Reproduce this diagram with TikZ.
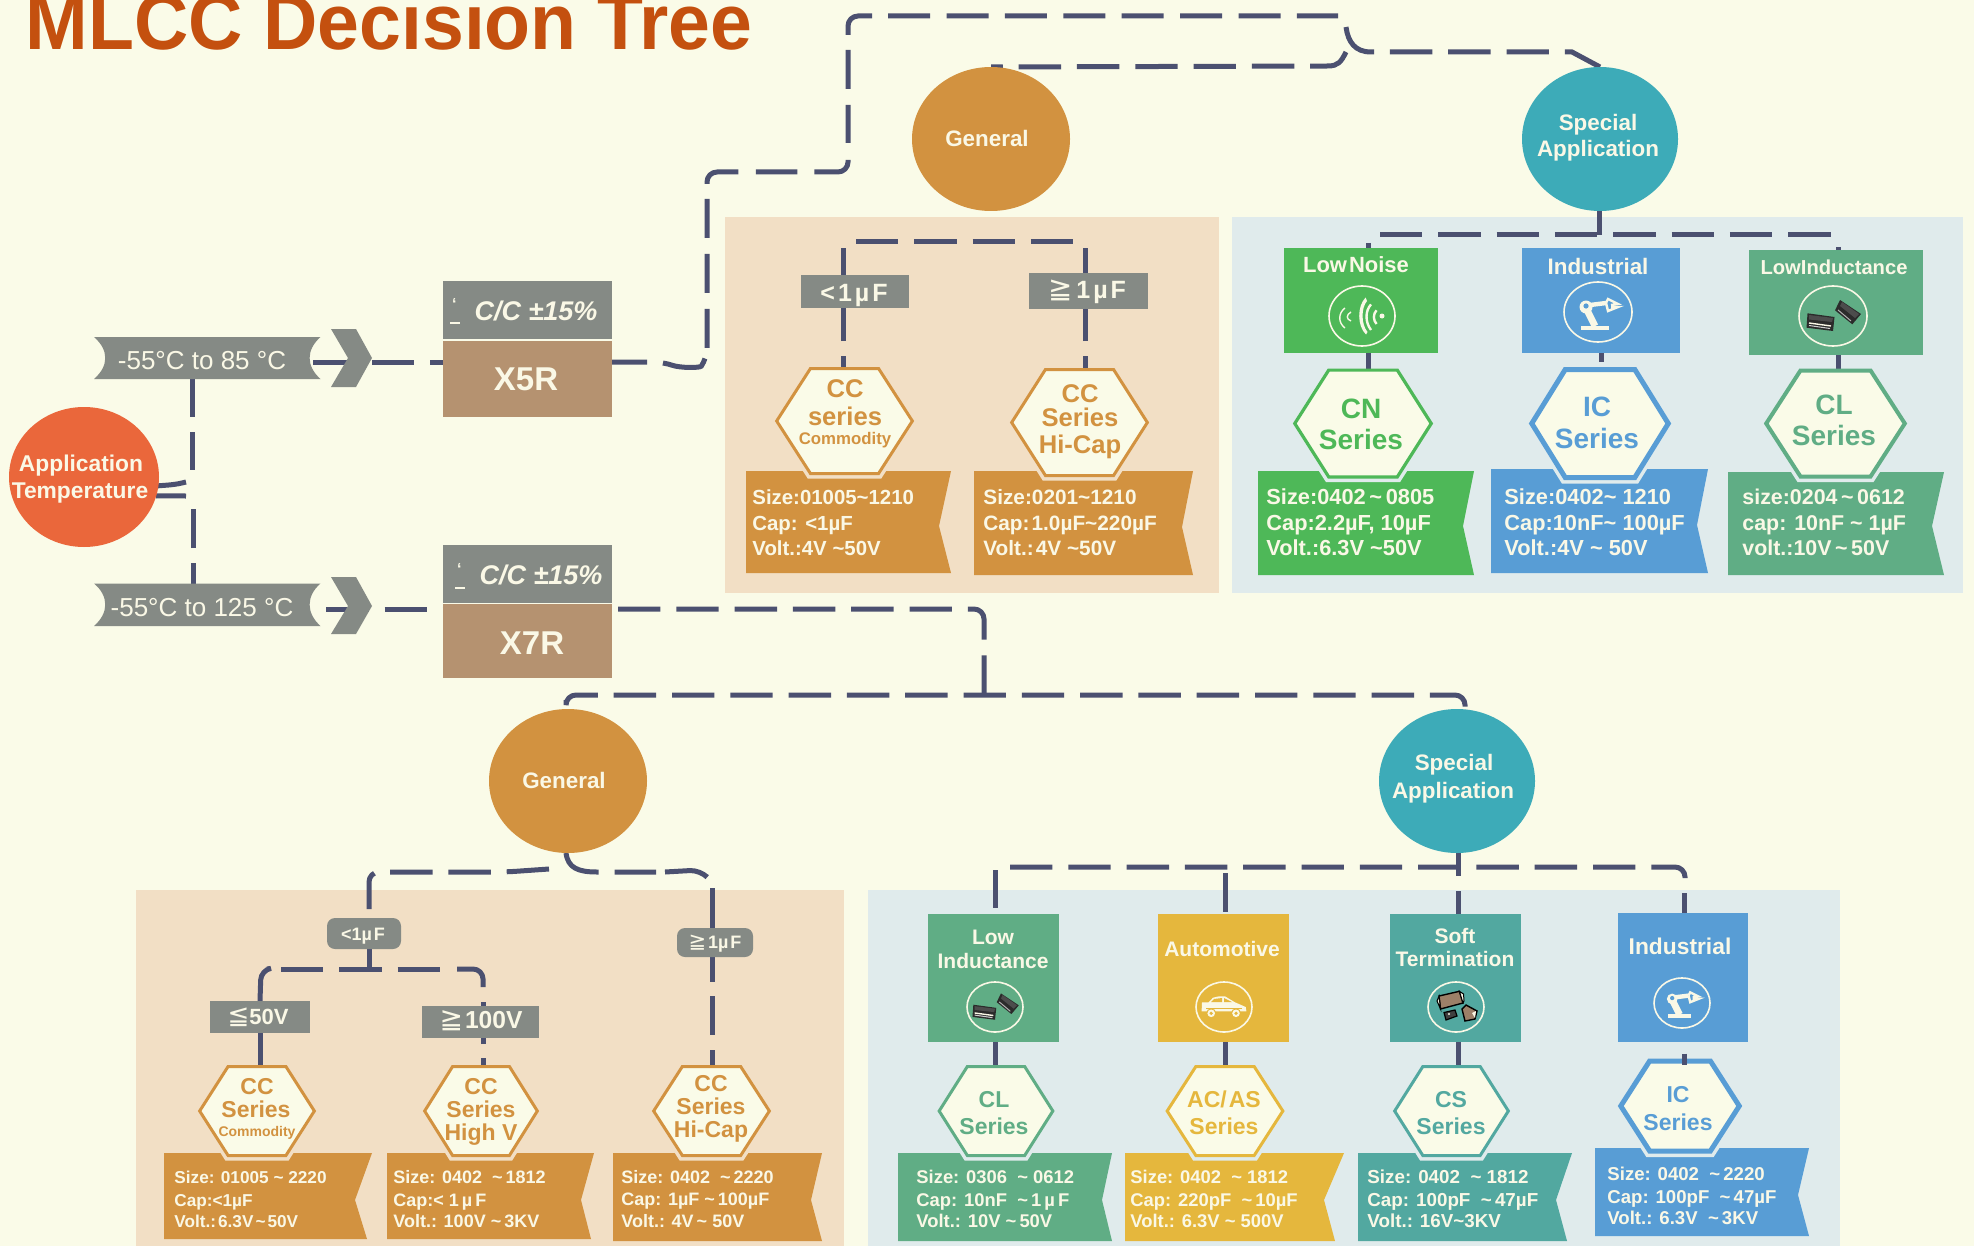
\documentclass[tikz,border=0pt]{standalone}
\usepackage{fontspec}
\setmainfont{Liberation Sans}
\newfontfamily\symf{DejaVu Sans}
\usetikzlibrary{shapes.geometric,calc}
\pgfdeclarelayer{panelL}\pgfdeclarelayer{connL}\pgfsetlayers{panelL,connL,main}
\definecolor{bgc}{HTML}{FAFBE8}
\definecolor{ptan}{HTML}{F2DFC5}
\definecolor{pblue}{HTML}{E0EBEC}
\definecolor{grayc}{HTML}{858A85}
\definecolor{tanc}{HTML}{B59270}
\definecolor{orc}{HTML}{D29240}
\definecolor{tealc}{HTML}{3DABB8}
\definecolor{grnc}{HTML}{4EB858}
\definecolor{bluc}{HTML}{589DD5}
\definecolor{mgrn}{HTML}{60AD85}
\definecolor{yelc}{HTML}{E5B73D}
\definecolor{tgrn}{HTML}{52A8A0}
\definecolor{linec}{HTML}{4B5070}
\definecolor{redc}{HTML}{EA673B}
\definecolor{titc}{HTML}{C4500F}
\definecolor{wtxt}{HTML}{FAF8E6}
\definecolor{chipd}{HTML}{2B2B2B}
\definecolor{chipb}{HTML}{9C8068}
\tikzset{
  conn/.style={draw=linec,line width=2.5pt,dash pattern=on 21.2pt off 7.95pt},
  connS/.style={draw=linec,line width=2.5pt},
  rc/.style={rounded corners=5pt},
  blank/.style={inner sep=0pt,outer sep=0pt,draw=none},
  ring/.style={draw=wtxt,line width=0.8pt},
}
% text, centred: [font]{name}{x}{y centre}{size pt}{colour}{text}
\newcommand{\lab}[7][\bfseries]{%
  \pgfmathsetmacro\laby{#4+0.72*#5}%
  \node[anchor=base,inner sep=0pt,text=#6,font={\fontsize{#5}{#5}\selectfont#1}] (#2) at (#3,\laby) {#7};}
% three-line text of a tag
\newcommand{\tagtxt}[9]{%
  \pgfmathsetmacro\laya{#3+0.72*#6}\pgfmathsetmacro\layb{#4+0.72*#6}\pgfmathsetmacro\layc{#5+0.72*#6}%
  \node[anchor=base west,inner sep=0pt,text=wtxt,font={\fontsize{#6}{#6}\selectfont\bfseries}] (#1a) at (#2,\laya) {#7};
  \node[anchor=base west,inner sep=0pt,text=wtxt,font={\fontsize{#6}{#6}\selectfont\bfseries}] (#1b) at (#2,\layb) {#8};
  \node[anchor=base west,inner sep=0pt,text=wtxt,font={\fontsize{#6}{#6}\selectfont\bfseries}] (#1c) at (#2,\layc) {#9};}
% rectangle node from corners: [opts]{name}{x1}{y1}{x2}{y2}
\newcommand{\pxbox}[6][]{%
  \pgfmathsetmacro\pxc{(#3+#5)/2}\pgfmathsetmacro\pyc{(#4+#6)/2}%
  \pgfmathsetmacro\pxw{(#5-#3)*0.5}\pgfmathsetmacro\pxh{(#6-#4)*0.5}%
  \node[blank,#1,minimum width=\pxw pt,minimum height=\pxh pt] (#2) at (\pxc,\pyc) {};}
% ellipse node: {name}{colour}{cx}{cy}{rx}{ry}
\newcommand{\ovalnode}[6]{\node[ellipse,blank,fill=#2,minimum width=#5 pt,minimum height=#6 pt] (#1) at (#3,#4) {};}
% hexagon: {name}{colour}{halo}{cx}{cy}{hw}{hh}{lw px}; hw and hh reach the outer edge of the stroke
\newcommand{\hexa}[8]{%
  \pgfmathsetmacro\ha{#4-#6+0.55*#8}\pgfmathsetmacro\hb{#4-0.49*#6}\pgfmathsetmacro\hc{#4+0.49*#6}\pgfmathsetmacro\hd{#4+#6-0.55*#8}%
  \pgfmathsetmacro\he{#5-#7+0.5*#8}\pgfmathsetmacro\hf{#5+#7-0.5*#8}\pgfmathsetmacro\hl{#8*0.5}\pgfmathsetmacro\hm{(#8+7)*0.5}%
  \pgfmathsetmacro\hw{#6}\pgfmathsetmacro\hh{#7}%
  \draw[draw=#3,line width=\hm pt,line join=miter] (\ha,#5)--(\hb,\hf)--(\hc,\hf)--(\hd,#5);
  \draw[draw=#2,fill=bgc,line width=\hl pt,line join=miter] (\ha,#5)--(\hb,\he)--(\hc,\he)--(\hd,#5)--(\hc,\hf)--(\hb,\hf)--cycle;
  \node[blank,minimum width=\hw pt,minimum height=\hh pt] (#1) at (#4,#5) {};}
% tag: {colour}{x1}{y1}{xtop}{notch x}{notch y}{xbottom}{y2}
\newcommand{\tagbox}[8]{\fill[#1] (#2,#3)--(#4,#3)--(#5,#6)--(#7,#8)--(#2,#8)--cycle;}
\newcommand{\bigge}[1]{{\symf\mdseries\fontsize{#1}{#1}\selectfont ≧}}
\newcommand{\bigle}[1]{{\symf\mdseries\fontsize{#1}{#1}\selectfont ≦}}
\newcommand{\brokenmark}{\rlap{\raisebox{6pt}{\kern1pt‘}}\rule[-1pt]{5pt}{1pt}}
% icons
\newcommand{\iconring}[4]{\draw[ring] (#1,#2) ellipse (#3 and #4);}
\newcommand{\iconrobot}[3]{\begin{scope}[shift={(#1,#2)},scale=#3]
  \fill[wtxt] (-17,14) rectangle (11,18);
  \draw[wtxt,line width=3.4pt] (-12,-4)--(-3,14);
  \draw[wtxt,line width=2.2pt] (-8,-7)--(8,-9);
  \fill[wtxt] (-12,-5) circle (6.5);
  \fill[bluc] (-12,-6) circle (2.6);
  \draw[wtxt,line width=1.2pt] (8,-9)--(10,-13)--(20,-8)--(13,-7);
  \draw[wtxt,line width=1.2pt] (8,-9)--(10,-1)--(20,-5)--(13,-5);
\end{scope}}
\newcommand{\iconchips}[3]{\begin{scope}[shift={(#1,#2)},scale=#3]
  \fill[chipd] (-25.5,-2.7)--(1.5,1)--(0,15)--(-26.5,11.7)--cycle;
  \fill[black!70] (-24,-1)--(0,2)--(-1,6)--(-24,3.5)--cycle;
  \draw[wtxt,line width=0.7pt] (-24,7)--(-2,10);
  \draw[white!80!black,line width=0.5pt] (-24,9.5)--(-3,12.5);
  \fill[chipd] (7,-16)--(28,-2)--(19.3,8.3)--(2,-5.7)--cycle;
  \fill[black!70] (9,-14)--(26,-2)--(22,2)--(7,-10)--cycle;
  \draw[white!70!black,line width=0.5pt] (5,-6)--(18,5);
\end{scope}}
\newcommand{\iconwaves}[2]{\begin{scope}[shift={(#1,#2)}]
  \fill[wtxt] (3.6,-18.5) .. controls (-5,-10) and (-5,10) .. (4,18.5) -- (5.5,16) .. controls (-1,8) and (-1,-8) .. (5,-15) -- cycle;
  \draw[wtxt,line width=1.2pt] (9,-11.6) .. controls (3,-5) and (3,6) .. (9,14);
  \draw[wtxt,line width=1.2pt] (14.5,-5.7) .. controls (11,-2) and (11,4) .. (14.5,8);
  \fill[wtxt] (20,0) circle (2.5);
  \draw[wtxt,line width=0.7pt] (-17,-8) .. controls (-24,-3) and (-24,7) .. (-17,12);
  \draw[wtxt,line width=0.7pt] (-11,-4) .. controls (-16,-1) and (-16,3) .. (-11,5);
\end{scope}}
\newcommand{\iconcar}[2]{\begin{scope}[shift={(#1,#2)}]
  \fill[wtxt] (-22,-4.7)--(-15.5,-4.7)--(-11,-9.3) .. controls (-5,-11) and (-3,-11) .. (1,-10.7)--(11,-4.7)--(21.7,0)--(22.4,4.3)--(-22.4,4.3)--cycle;
  \fill[yelc] (-10,-8)--(-2,-9)--(-2,-5)--(-13,-5)--cycle;
  \fill[yelc] (0,-9)--(8,-5)--(0,-5)--cycle;
  \fill[yelc] (-18,0.5)--(18,0.5)--(18,1.5)--(-18,1.5)--cycle;
  \foreach \wx in {-12.8,12}{\fill[yelc] (\wx,6.3) circle (5);\fill[wtxt] (\wx,6.3) circle (3.8);\fill[yelc] (\wx,6.3) circle (1.8);}
\end{scope}}
\newcommand{\iconsoft}[2]{\begin{scope}[shift={(#1,#2)}]
  \draw[fill=chipb,draw=black,line width=0.7pt] (-17,-11)--(3.4,-15.7)--(7,-4)--(-15.5,2)--cycle;
  \fill[wtxt,draw=black,line width=0.5pt] (3.4,-15.7) -- (7.5,-13) -- (8,-6) -- (7,-4) -- cycle;
  \fill[wtxt,draw=black,line width=0.5pt] (-17,-11) -- (-19,-6) -- (-15.5,2)-- cycle;
  \draw[fill=black!75,draw=black,line width=0.6pt] (-12,5.5)--(-1,3)--(1,9)--(-10,13)--cycle;
  \fill[wtxt] (-7,7) circle (1.2);
  \draw[fill=chipb,draw=black,line width=0.7pt] (6,2)--(10,-2)--(21,4)--(19,12)--(9,14)--cycle;
  \fill[wtxt] (16,6) -- (20,4) -- (19,11) -- cycle;
\end{scope}}
\begin{document}
\begin{tikzpicture}[x=0.5pt,y=-0.5pt]
\useasboundingbox (0,0) rectangle (1974,1246);
\begin{pgfonlayer}{panelL}
  \fill[bgc] (0,0) rectangle (1974,1246);
  \fill[ptan] (725,217) rectangle (1219,593);
  \fill[pblue] (1232,217) rectangle (1963,593);
  \fill[ptan] (136,890) rectangle (844,1246);
  \fill[pblue] (868,890) rectangle (1840,1246);
\end{pgfonlayer}

% title
\node[anchor=base west,inner sep=0pt,text=titc,font={\fontsize{39.5}{39.5}\selectfont\bfseries}] (title) at (25,50) {\scalebox{0.952}[1]{MLCC Decision Tree}};

% left column
\ovalnode{apptemp}{redc}{84}{477}{75}{70}
\lab{apptemp1}{81}{463}{11.4}{wtxt}{Application}
\lab{apptemp2}{80}{490}{11.4}{wtxt}{Temperature}

\fill[grayc] (94,337)--(320.5,337) .. controls (306,350) and (306,366) .. (320.5,379)--(94,379) .. controls (109,366) and (109,350) .. (94,337)--cycle;
\pxbox{rib1}{94}{337}{320}{379}
\lab[\mdseries]{rib1t}{202}{360}{13}{wtxt}{-55°C to 85 °C}
\fill[grayc] (94,583.5)--(320.5,583.5) .. controls (306,596) and (306,613) .. (320.5,626)--(94,626) .. controls (109,613) and (109,596) .. (94,583.5)--cycle;
\pxbox{rib2}{94}{584}{320}{626}
\lab[\mdseries]{rib2t}{202}{607}{13}{wtxt}{-55°C to 125 °C}

\fill[grayc] (331,329)--(356,329)--(372,358)--(356,387)--(331,387)--(348,358)--cycle;
\pxbox{chev1}{331}{329}{372}{387}
\fill[grayc] (331,577)--(356,577)--(372,606)--(356,634)--(331,634)--(348,606)--cycle;
\pxbox{chev2}{331}{577}{372}{634}

\pxbox[fill=grayc]{x5rg}{443}{281}{612}{339}
\pxbox[fill=tanc]{x5r}{443}{341}{612}{417}
\pxbox[fill=grayc]{x7rg}{443}{545}{612}{603}
\pxbox[fill=tanc]{x7r}{443}{604}{612}{678}
\lab[\bfseries\itshape]{x5rgt}{536}{311}{13.5}{wtxt}{C/C ±15\%}
\lab[\bfseries\itshape]{x7rgt}{541}{575}{13.5}{wtxt}{C/C ±15\%}
\lab[\bfseries]{x5rga}{455}{316}{8}{wtxt}{\brokenmark}
\lab[\bfseries]{x7rga}{460}{581}{8}{wtxt}{\brokenmark}
\lab{x5rt}{526}{379}{16.5}{wtxt}{X5R}
\lab{x7rt}{532}{643}{16.5}{wtxt}{X7R}

% top general
\ovalnode{genT}{orc}{991}{139}{79}{72}
\lab{genTt}{987}{138}{11.2}{wtxt}{General}
\pxbox[fill=grayc]{ltT}{801}{275}{909}{308}
\pxbox[fill=grayc]{geT}{1029}{273}{1148}{309}
\lab{ltTt}{854}{292}{12.5}{wtxt}{<\kern1.5pt1\kern1.5ptµ\kern1.5ptF}
\lab{geTt}{1087}{289}{12.5}{wtxt}{\bigge{14.5}\kern2pt1\kern1.5ptµ\kern1.5ptF}
\tagbox{orc}{746}{471}{951}{939}{526}{951}{573}
\hexa{hT1}{orc}{ptan}{844.5}{421}{69.5}{54}{3}
\lab{hT1a}{845}{388}{12.8}{orc}{CC}
\lab{hT1b}{845}{416}{12.8}{orc}{series}
\lab{hT1c}{845}{438}{8.4}{orc}{Commodity}
\tagtxt{tT1}{752}{497}{523}{548}{10.2}{Size:01005\textasciitilde1210}{Cap: <1µF}{Volt.:4V \textasciitilde50V}
\tagbox{orc}{974}{471}{1193}{1182}{527}{1193}{575}
\hexa{hT2}{orc}{ptan}{1079.5}{422.5}{69.5}{54.5}{3}
\lab{hT2a}{1080}{393}{12.8}{orc}{CC}
\lab{hT2b}{1080}{417}{12.8}{orc}{Series}
\lab{hT2c}{1080}{444}{12.8}{orc}{Hi-Cap}
\tagtxt{tT2}{983}{497}{523}{548}{10.4}{Size:0201\textasciitilde1210}{Cap:\kern1pt1.0µF\textasciitilde220µF}{Volt.:\kern1pt4V \textasciitilde50V}

% top special
\ovalnode{speT}{tealc}{1600}{139}{78}{72}
\lab{speTa}{1598}{122}{11.2}{wtxt}{Special}
\lab{speTb}{1598}{148}{11.2}{wtxt}{Application}
\pxbox[fill=grnc]{ln}{1284}{248}{1438}{353}
\pxbox[fill=bluc]{ind}{1522}{248}{1680}{353}
\pxbox[fill=mgrn]{li}{1749}{250}{1923}{355}
\lab{lnt}{1356}{265}{11}{wtxt}{Low\kern1ptNoise}
\lab{indt}{1598}{266}{11.2}{wtxt}{Industrial}
\lab{lit}{1834}{267}{10.1}{wtxt}{LowInductance}
\iconring{1362}{316}{33}{30}\iconwaves{1362}{316}
\iconring{1598}{312}{34}{30}\iconrobot{1598}{312}{1}
\iconring{1833}{316}{34}{30}\iconchips{1833}{316}{1}

\tagbox{grnc}{1258}{471}{1474}{1463}{526}{1474}{575}
\hexa{hCN}{grnc}{pblue}{1363}{423.5}{70}{55}{3.2}
\lab{hCNa}{1361}{408}{14}{grnc}{CN}
\lab{hCNb}{1361}{439}{14}{grnc}{Series}
\tagtxt{tCN}{1266}{497}{523}{548}{10.9}{Size:0402\,\textasciitilde\,0805}{Cap:2.2µF, 10µF}{Volt.:6.3V \textasciitilde50V}
\tagbox{bluc}{1491}{469}{1708}{1697}{525}{1708}{573}
\hexa{hIC}{bluc}{pblue}{1600}{423.5}{71}{56.5}{5}
\lab{hICa}{1597}{406}{14}{bluc}{IC}
\lab{hICb}{1597}{438}{14}{bluc}{Series}
\tagtxt{tIC}{1504}{497}{523}{548}{10.9}{Size:0402\textasciitilde\ 1210}{Cap:10nF\textasciitilde\ 100µF}{Volt.:4V \textasciitilde\ 50V}
\tagbox{mgrn}{1728}{472}{1944}{1932}{526}{1944}{575}
\hexa{hCL}{mgrn}{pblue}{1835.5}{423.5}{71.5}{55}{4}
\lab{hCLa}{1834}{404}{14}{mgrn}{CL}
\lab{hCLb}{1834}{435}{14}{mgrn}{Series}
\tagtxt{tCL}{1742}{497}{523}{548}{10.7}{size:0204\,\textasciitilde\,0612}{cap: 10nF \textasciitilde\ 1µF}{volt.:10V\,\textasciitilde\,50V}

% bottom general
\ovalnode{genL}{orc}{568}{781}{79}{72}
\lab{genLt}{564}{780}{11.2}{wtxt}{General}
\pxbox[fill=grayc,rounded corners=4pt]{ltL}{327}{918}{401}{949}
\pxbox[fill=grayc,rounded corners=4pt]{geL}{677}{928}{753}{957}
\lab{ltLt}{363}{934}{9}{wtxt}{<1µ\kern1pt F}
\lab{geLt}{715}{942}{9}{wtxt}{\bigge{10.5}\kern1pt 1µ\kern1pt F}
\pxbox[fill=grayc]{v50}{210}{1001}{310}{1033}
\pxbox[fill=grayc]{v100}{422}{1006}{539}{1038}
\lab{v50t}{258}{1017}{11}{wtxt}{\bigle{13}50V}
\lab{v100t}{481}{1020}{12.3}{wtxt}{\bigge{14}\kern1pt 100V}

\tagbox{orc}{164}{1153}{372}{355}{1200}{367}{1239}
\hexa{hL1}{orc}{ptan}{257}{1111}{59}{46}{3}
\lab{hL1a}{257}{1086}{11.5}{orc}{CC}
\lab{hL1b}{256}{1109}{11.5}{orc}{Series}
\lab{hL1c}{257}{1131}{7}{orc}{Commodity}
\tagtxt{tL1}{174}{1177}{1200}{1221}{8.6}{Size: 01005 \textasciitilde\ 2220}{Cap:<1µF}{Volt.:\kern1pt 6.3V\kern1pt\textasciitilde\kern1pt50V}
\tagbox{orc}{387}{1153}{594}{581}{1200}{591}{1239}
\hexa{hL2}{orc}{ptan}{481}{1111}{58}{46}{3}
\lab{hL2a}{481}{1086}{11.5}{orc}{CC}
\lab{hL2b}{481}{1109}{11.5}{orc}{Series}
\lab{hL2c}{481}{1132}{11.5}{orc}{High V}
\tagtxt{tL2}{393}{1177}{1200}{1221}{9}{Size: 0402\ \ \textasciitilde\,1812}{Cap:< 1\,µ\,F}{Volt.: 100V \textasciitilde\,3KV}
\tagbox{orc}{613}{1153}{822}{811}{1200}{822}{1241}
\hexa{hL3}{orc}{ptan}{711.5}{1111}{59.5}{46}{3}
\lab{hL3a}{711}{1083}{11.5}{orc}{CC}
\lab{hL3b}{711}{1106}{11.5}{orc}{Series}
\lab{hL3c}{711}{1129}{11.5}{orc}{Hi-Cap}
\tagtxt{tL3}{621}{1177}{1199}{1221}{9}{Size: 0402\ \ \textasciitilde\,2220}{Cap: 1µF \textasciitilde\,100µF}{Volt.: 4V\,\textasciitilde\ 50V}

% bottom special
\ovalnode{speL}{tealc}{1457}{781}{78}{72}
\lab{speLa}{1454}{762}{11.2}{wtxt}{Special}
\lab{speLb}{1453}{790}{11.2}{wtxt}{Application}
\pxbox[fill=mgrn]{bLI}{928}{914}{1059}{1042}
\pxbox[fill=yelc]{bAU}{1158}{914}{1289}{1042}
\pxbox[fill=tgrn]{bST}{1390}{914}{1521}{1042}
\pxbox[fill=bluc]{bIN}{1618}{913}{1748}{1042}
\lab{bLIa}{993}{937}{10.5}{wtxt}{Low}
\lab{bLIb}{993}{961}{10.5}{wtxt}{Inductance}
\lab{bAUt}{1222}{949}{10.5}{wtxt}{Automotive}
\lab{bSTa}{1455}{936}{10.5}{wtxt}{Soft}
\lab{bSTb}{1455}{959}{10.5}{wtxt}{Termination}
\lab{bINt}{1680}{946}{11.4}{wtxt}{Industrial}
\iconring{995}{1007}{28}{25}\iconchips{995}{1007}{0.85}
\iconring{1224}{1007}{28}{25}\iconcar{1224}{1007}
\iconring{1456}{1007}{28}{25}\iconsoft{1456}{1007}
\iconring{1682}{1003}{28}{25}\iconrobot{1682}{1003}{0.82}

\tagbox{mgrn}{898}{1153}{1112}{1102}{1200}{1112}{1241}
\hexa{hS1}{mgrn}{pblue}{996}{1111}{58.5}{46}{3}
\lab{hS1a}{994}{1099}{11.5}{mgrn}{CL}
\lab{hS1b}{994}{1126}{11.5}{mgrn}{Series}
\tagtxt{tS1}{916}{1177}{1200}{1221}{9.2}{Size: 0306\ \ \textasciitilde\ 0612}{Cap: 10nF\ \ \textasciitilde\,1\,µ\,F}{Volt.: 10V \textasciitilde\,50V}
\tagbox{yelc}{1125}{1153}{1344}{1324}{1200}{1335}{1241}
\hexa{hS2}{yelc}{pblue}{1225}{1111}{59.5}{46}{3}
\lab{hS2a}{1224}{1099}{11.5}{yelc}{AC/\kern1ptAS}
\lab{hS2b}{1224}{1126}{11.5}{yelc}{Series}
\tagtxt{tS2}{1130}{1177}{1200}{1221}{9.2}{Size: 0402\ \ \textasciitilde\ 1812}{Cap: 220pF\ \ \textasciitilde\,10µF}{Volt.: 6.3V \textasciitilde\ 500V}
\tagbox{tgrn}{1358}{1153}{1572}{1556}{1200}{1567}{1241}
\hexa{hS3}{tgrn}{pblue}{1451.5}{1111}{58.5}{46}{3}
\lab{hS3a}{1451}{1099}{11.5}{tgrn}{CS}
\lab{hS3b}{1451}{1126}{11.5}{tgrn}{Series}
\tagtxt{tS3}{1367}{1177}{1200}{1221}{9.4}{Size: 0402\ \ \textasciitilde\ 1812}{Cap: 100pF\ \ \textasciitilde\,47µF}{Volt.: 16V\textasciitilde 3KV}
\tagbox{bluc}{1595}{1148}{1809}{1798}{1195}{1809}{1236}
\hexa{hS4}{bluc}{pblue}{1680}{1106}{62}{47.5}{5}
\lab{hS4a}{1678}{1094}{11.5}{bluc}{IC}
\lab{hS4b}{1678}{1122}{11.5}{bluc}{Series}
\tagtxt{tS4}{1607}{1174}{1197}{1218}{9.3}{Size: 0402\ \ \textasciitilde\,2220}{Cap: 100pF\ \ \textasciitilde\,47µF}{Volt.: 6.3V\ \ \textasciitilde\,3KV}

% junction and bend points
\coordinate (stubA) at (186,482);
\coordinate (stubB) at (186,496);
\coordinate (tr1) at (192,471);
\coordinate (tr2) at (193,508);
\coordinate (r1o) at ($(rib1.east)+(-7,4)$);
\coordinate (c1i) at ($(chev1.center)+(0,4)$);
\coordinate (c1o) at ($(chev1.east)+(0,4)$);
\coordinate (r2o) at ($(rib2.east)+(-11,4)$);
\coordinate (x5rO) at ($(x5r.east)+(0,-17)$);
\coordinate (bendA) at (848,160);
\coordinate (bendB) at (848,143);
\coordinate (jTop) at (1338,16);
\coordinate (jA) at (1346,27);
\coordinate (jB) at (1346,52);
\coordinate (x7rO) at ($(x7r.east)+(6,-32)$);
\coordinate (j7) at (984,695);
\coordinate (busL) at ($(genL.north)+(-2,-9)$);
\coordinate (busR) at (1465,709);
\coordinate (tA) at (843,248);
\coordinate (tB) at (856,242);
\coordinate (tC) at (1073,242);
\coordinate (tD) at (1085,248);
\coordinate (sB) at (1599,235);
\coordinate (sL) at (1380,235);
\coordinate (sR) at (1832,235);
\coordinate (sLx) at (1368,243);
\coordinate (sRx) at (1838,247);
\coordinate (g1) at (549,869);
\coordinate (g2) at (369,872);
\coordinate (g2b) at (369,909);
\coordinate (g3) at (597,872);
\coordinate (g4) at (665,872);
\coordinate (g5) at (706,876);
\coordinate (g6) at (712,888);
\coordinate (h1) at (369,969);
\coordinate (h2) at (281,969);
\coordinate (h3) at (441,969);
\coordinate (h4) at (457,969);
\coordinate (h5) at (483,987);
\coordinate (h6) at (483,1002);
\coordinate (h7) at (261,970);
\coordinate (k1) at (1010,867);
\coordinate (k2) at (1685,878);
\coordinate (k3) at (995,870);
\coordinate (k4) at (1225,873);
\coordinate (k5) at (1458,876);
\coordinate (k6) at (1458,891);
\coordinate (k7) at (1684,893);

\begin{pgfonlayer}{connL}
  % application temperature
  \draw[connS] ($(apptemp.center)+(72,9)$) to[out=5,in=195] (stubA);
  \draw[connS] ($(apptemp.center)+(72,19)$) to[out=2,in=180] (stubB);
  \draw[connS,dash pattern=on 19pt off 7.5pt] (tr1 |- rib1.south) -- (tr1);
  \draw[connS,dash pattern=on 10.5pt off 7.5pt on 19.5pt off 7.5pt] (tr2 |- rib2.north) -- (tr2);
  % ribbons to chevrons to capacitor boxes
  \draw[connS] (r1o) -- (c1i);
  \draw[conn] (c1o) -- (c1o -| x5r.west);
  \draw[conn,dash phase=20.5pt] (r2o) -- (r2o -| x7r.west);
  % X5R route
  \draw[connS,rc,dash pattern=on 17.5pt off 8pt on 23.75pt off 5.5pt on 19.5pt off 8pt on 19.5pt off 8pt on 19.5pt off 7.5pt on 19.35pt off 8.75pt on 20.75pt off 8.5pt on 30pt]
    (x5rO) -- (663,362) .. controls (680,368) and (700,368) .. (707,358) -- (707,172) -- (848,172) -- (bendA);
  \draw[connS,rc,dash pattern=on 19pt off 8pt on 19.5pt off 7.5pt on 19.35pt off 8pt on 21pt off 8.2pt on 21pt off 8.2pt on 21pt off 8.2pt on 21pt off 8.2pt on 21pt off 8.2pt on 21pt off 8.2pt on 21pt off 8.2pt on 21pt off 8.2pt]
    (bendB) -- (848,16) -- (jTop);
  \draw[conn] (jA) .. controls (1348,42) and (1355,52) .. (1371,52) -- (1572,52) -- (speT.north);
  \draw[conn] (jB) .. controls (1341,62) and (1338,66) .. (1328,66) -- (genT.north);
  % top general
  \draw[connS,dash pattern=on 5.5pt off 7.5pt on 46.5pt] (hT1.north -| tA) -- (tA);
  \draw[conn] (tB) -- (tC);
  \draw[connS,dash pattern=on 6pt off 7.5pt on 46.5pt] (hT2.north -| tD) -- (tD);
  % top special
  \draw[connS] (speT.south -| sB) -- (sB);
  \draw[conn] (sL) -- (sR);
  \draw[connS] (sLx) -- (sLx |- ln.north);
  \draw[connS] (sRx) -- (sRx |- li.north);
  \draw[connS] (ln.south -| sLx) -- (hCN.north -| sLx);
  \draw[connS] (ind.south) -- ($(ind.south)+(0,9)$);
  \draw[connS] (li.south -| sRx) -- (hCL.north -| sRx);
  % X7R route
  \draw[conn,rc] (x7rO) -- (984,609) -- (j7);
  \draw[conn,rc] (busL) -- (566,695) -- (1465,695) -- (busR);
  % bottom general
  \draw[conn,rc] (g1) -- (506,872) -- (g2) -- (g2b);
  \draw[connS] (ltL.south -| h1) -- (h1);
  \draw[conn] (genL.south -| 566,0) .. controls (568,868) and (578,872) .. (g3) -- (656,872);
  \draw[connS,rc] (g4) -- (700,870) -- (g5);
  \draw[connS,dash pattern=on 47pt off 7pt on 19.5pt off 7.5pt on 7.5pt] (g6) -- (g6 |- hL3.north);
  \draw[connS,rc] (v50.north) -- (h7) -- (267,969);
  \draw[conn] (h2) -- (h3);
  \draw[connS,rc] (h4) -- (483,969) -- (h5);
  \draw[connS,dash pattern=on 3.5pt off 7pt on 25pt] (hL2.north -| h6) -- (h6);
  \draw[connS] (v50.south) -- (hL1.north -| v50.south);
  % bottom special
  \draw[conn,rc] (k1) -- (1685,867) -- (k2);
  \draw[connS] (k3) -- ($(bLI.north -| k3)+(0,-6)$);
  \draw[connS] (k4) -- ($(bAU.north -| k4)+(0,-2)$);
  \draw[connS] (speL.south -| k5) -- (k5);
  \draw[connS] (k6) -- (bST.north -| k6);
  \draw[connS] (k7) -- (bIN.north -| k7);
  \draw[connS] (bLI.south -| k3) -- (hS1.north -| k3);
  \draw[connS] (bAU.south -| k4) -- (hS2.north -| k4);
  \draw[connS] (bST.south -| k6) -- (hS3.north -| k6);
\end{pgfonlayer}
\draw[connS] ($(hS4.north -| k7)+(0,-5)$) -- ($(hS4.north -| k7)+(0,6)$);
\end{tikzpicture}
\end{document}
